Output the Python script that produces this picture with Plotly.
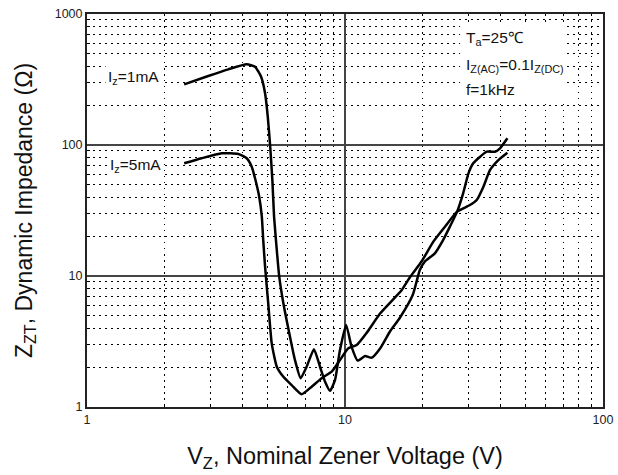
import plotly.graph_objects as go

# ---- data ----
vz_1ma = [2.38, 2.95, 3.53, 4.16, 4.48, 4.73, 4.90, 5.02, 5.13, 5.23, 5.31, 5.44, 5.56,
          5.77, 6.12, 6.40, 6.73, 7.10, 7.58, 8.00, 8.37, 8.75, 9.15, 9.56, 10.1, 10.6,
          11.2, 11.96, 12.7, 13.7, 14.9, 16.3, 18.3, 19.5, 20.4, 22.3, 24.0, 25.5, 27.2,
          28.7, 30.1, 31.4, 33.4, 35.4, 38.1, 39.9, 42.6]
zz_1ma = [290, 336, 378, 413, 396, 332, 248, 164, 97, 54, 28.4, 15.8, 9.88,
          6.19, 3.44, 2.28, 1.66, 2.03, 2.76, 2.03, 1.56, 1.33, 1.61, 2.72, 4.23, 2.89,
          2.26, 2.45, 2.38, 2.81, 3.74, 4.78, 7.16, 11.1, 12.9, 14.9, 18.8, 23.8, 31.0,
          42.8, 60.8, 72.5, 81.4, 88.9, 88.9, 94.4, 112.5]

vz_5ma = [2.38, 2.78, 3.33, 3.86, 4.16, 4.35, 4.48, 4.65, 4.76, 4.82, 4.90, 5.04, 5.20,
          5.44, 5.77, 6.21, 6.79, 7.43, 8.12, 8.88, 9.56, 10.3, 11.1, 12.1, 13.7, 16.6,
          17.9, 19.8, 22.0, 24.4, 27.2, 30.5, 32.4, 34.4, 36.5, 39.3, 42.6]
zz_5ma = [72.5, 79.2, 86.4, 85.4, 79.2, 68.3, 55.7, 40.3, 28.4, 18.8, 11.8, 6.19, 3.06,
          2.03, 1.70, 1.47, 1.25, 1.43, 1.66, 1.86, 2.28, 2.81, 2.97, 3.65, 5.19, 7.82,
          9.88, 12.9, 18.3, 23.8, 31.0, 34.8, 38.0, 48.1, 64.5, 76.8, 87.4]

x_ticks = [1, 10, 100]
x_tick_text = ["1", "10", "100"]
y_ticks = [1, 10, 100, 1000]
y_tick_text = ["1", "10", "100", "1000"]
x_minor = [2, 3, 4, 5, 6, 7, 8, 9, 20, 30, 40, 50, 60, 70, 80, 90]
y_minor = [2, 3, 4, 5, 6, 7, 8, 9, 20, 30, 40, 50, 60, 70, 80, 90,
           200, 300, 400, 500, 600, 700, 800, 900]

FONT = "Liberation Sans, Arial, sans-serif"

fig = go.Figure()
fig.add_trace(go.Scatter(x=vz_1ma, y=zz_1ma, mode="lines", name="Iz=1mA",
                         line=dict(color="black", width=2.5, shape="spline", smoothing=0.5)))
fig.add_trace(go.Scatter(x=vz_5ma, y=zz_5ma, mode="lines", name="Iz=5mA",
                         line=dict(color="black", width=2.5, shape="spline", smoothing=0.5)))

minor_common = dict(showgrid=True, gridcolor="black", gridwidth=1.2,
                    griddash="1.5px,4.5px", ticks="inside", ticklen=3,
                    tickcolor="black", tickwidth=1)

fig.update_xaxes(type="log", range=[0, 2], tickvals=x_ticks, ticktext=x_tick_text,
                 showgrid=True, gridcolor="#444", gridwidth=1.8,
                 showline=True, mirror=True, linecolor="#222", linewidth=2,
                 ticks="", tickfont=dict(family=FONT, size=12.5, color="#222"),
                 minor=dict(tickvals=x_minor, **minor_common), automargin=False,
                 title=dict(text="V<sub>Z</sub>, Nominal Zener Voltage (V)",
                            font=dict(family=FONT, size=23.5, color="#111"), standoff=22),
                 zeroline=False)
fig.update_yaxes(type="log", range=[0, 3], tickvals=y_ticks, ticktext=y_tick_text,
                 showgrid=True, gridcolor="#444", gridwidth=1.8,
                 showline=True, mirror=True, linecolor="#222", linewidth=2,
                 ticks="", tickfont=dict(family=FONT, size=12.5, color="#222"),
                 minor=dict(tickvals=y_minor, **minor_common), automargin=False,
                 title=dict(text="Z<sub>ZT</sub>, Dynamic Impedance (Ω)",
                            font=dict(family=FONT, size=23, color="#111"), standoff=16),
                 zeroline=False)

lab_font = dict(family=FONT, size=15.5, color="#111")
fig.add_annotation(xref="x", yref="y", x=0.070, y=2.519, text="I<sub>z</sub>=1mA",
                   showarrow=False, xanchor="left", yanchor="middle", font=lab_font,
                   bgcolor="white", borderpad=2)
fig.add_annotation(xref="x", yref="y", x=0.077, y=1.847, text="I<sub>z</sub>=5mA",
                   showarrow=False, xanchor="left", yanchor="middle", font=lab_font,
                   bgcolor="white", borderpad=2)

fig.add_shape(type="rect", xref="paper", yref="paper", x0=0.723, x1=0.930, y0=0.781, y1=0.972,
              fillcolor="white", line=dict(width=0), layer="above")
fig.add_annotation(xref="paper", yref="paper", x=0.730, y=(407 - 39) / 393.0,
                   text="T<sub>a</sub>=25℃", showarrow=False, xanchor="left",
                   yanchor="middle", font=lab_font)
fig.add_annotation(xref="paper", yref="paper", x=0.730, y=(407 - 65) / 393.0,
                   text="I<sub>Z(AC)</sub>=0.1I<sub>Z(DC)</sub>", showarrow=False, xanchor="left",
                   yanchor="middle", font=lab_font)
fig.add_annotation(xref="paper", yref="paper", x=0.730, y=(407 - 90) / 393.0,
                   text="f=1kHz", showarrow=False, xanchor="left",
                   yanchor="middle", font=lab_font)

fig.update_layout(width=618, height=475, margin=dict(l=87, r=15, t=14, b=68),
                  paper_bgcolor="white", plot_bgcolor="white", showlegend=False)

fig.write_html("out.html", config={"displayModeBar": False},
               post_script="document.body.style.margin='0';document.body.style.overflow='hidden';")
